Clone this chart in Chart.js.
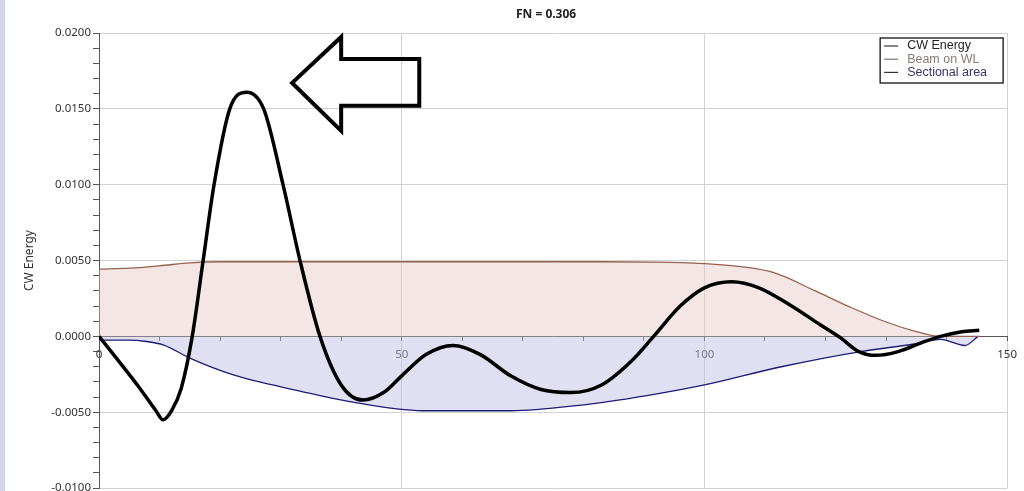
<!DOCTYPE html>
<html>
<head>
<meta charset="utf-8">
<script src="https://cdn.jsdelivr.net/npm/chart.js@4.4.1/dist/chart.umd.min.js"></script>
<style>
  html, body { margin: 0; padding: 0; background: #fff; overflow: hidden; }
  body { width: 1024px; height: 491px; position: relative; }
  #strip { position: absolute; left: 0; top: 0; width: 5px; height: 491px; background: #d3d7e7; z-index: 2; }
  #wrap { position: absolute; left: 0; top: 0; width: 1024px; height: 497px; }
</style>
</head>
<body>
<div id="strip"></div>
<div id="wrap"><canvas id="graphCanvas"></canvas></div>
<script>
// Datos
const chartTitle = 'FN = 0.306';
const yAxisTitle = 'CW Energy';

const cwX = [0, 3, 6.7, 9.4, 10.6, 12.0, 13.6, 15.4, 17.2, 19.0, 21.6, 24.4, 27.2, 30.4, 33.2, 36.5, 40, 43.6, 47, 50, 54, 58.5, 63, 68, 73, 78, 83, 88, 91.6, 96, 100, 104.5, 109, 114, 119, 122.5, 125.5, 128.3, 132, 136, 139, 142.5, 145.4];
const cwY = [0, -0.0015, -0.0034, -0.0049, -0.0055, -0.0049, -0.0034, 0.0000, 0.0050, 0.0100, 0.0150, 0.0161, 0.0150, 0.0100, 0.0050, 0.0000, -0.0032, -0.0042, -0.0037, -0.0026, -0.0012, -0.0006, -0.0012, -0.0026, -0.0035, -0.0037, -0.0032, -0.0016, 0.0000, 0.0020, 0.0032, 0.0036, 0.0032, 0.0021, 0.0008, -0.0001, -0.0010, -0.00125, -0.0010, -0.0004, 0.0000, 0.0003, 0.0004];

const beamX = [0, 5, 10, 15, 20, 40, 60, 80, 92, 100, 106, 111.5, 118.3, 123.7, 130, 135, 139, 145.5];
const beamY = [0.00443, 0.00450, 0.00465, 0.00485, 0.00492, 0.00492, 0.00492, 0.00492, 0.00490, 0.00480, 0.00460, 0.00420, 0.00300, 0.00200, 0.00095, 0.00032, 0.0000, 0.0000];

const areaX = [0, 5, 7.5, 10.7, 15.1, 22.2, 33.2, 41.4, 53.5, 60, 68, 79.3, 90.5, 100, 112.7, 125.8, 134.7, 139, 143, 145.2];
const areaY = [-0.00024, -0.00025, -0.00032, -0.00057, -0.00145, -0.00254, -0.0036, -0.0043, -0.0049, -0.0049, -0.0049, -0.00454, -0.0039, -0.0032, -0.0020, -0.0010, -0.0005, -0.0002, -0.0006, 0.0];

const seriesNames = ['CW Energy', 'Beam on WL', 'Sectional area'];
const legendTextColors = ['#222222', '#8c7a72', '#35356a'];

// Flecha (coordenadas en unidades de los ejes)
const arrowX = [31.9, 40.0, 40.0, 52.9, 52.9, 40.0, 40.0];
const arrowY = [0.01671, 0.01974, 0.01829, 0.01829, 0.01520, 0.01520, 0.01355];

const toPoints = (xs, ys) => xs.map((x, i) => ({ x, y: ys[i] }));
const isMajor = (v, step) => Math.abs(v / step - Math.round(v / step)) < 1e-6;

const titlePlugin = {
    id: 'fnTitle',
    afterDraw(chart) {
        const { ctx, chartArea } = chart;
        ctx.save();
        ctx.font = 'bold 12px "Noto Sans", sans-serif';
        ctx.fillStyle = '#222';
        ctx.textAlign = 'center';
        ctx.textBaseline = 'middle';
        ctx.fillText(chartTitle, (chartArea.left + chartArea.right) / 2 - 7, 15);
        ctx.restore();
    }
};

const boxLegend = {
    id: 'boxLegend',
    afterDraw(chart) {
        const { ctx, chartArea } = chart;
        const w = 123, h = 45;
        const x0 = chartArea.right - 4 - w, y0 = chartArea.top + 5;
        ctx.save();
        ctx.fillStyle = '#fff';
        ctx.fillRect(x0, y0, w, h);
        ctx.strokeStyle = '#111';
        ctx.lineWidth = 1.3;
        ctx.strokeRect(x0, y0, w, h);
        ctx.font = '12.5px "Liberation Sans", Arial, sans-serif';
        ctx.textBaseline = 'middle';
        chart.data.datasets.forEach((ds, i) => {
            const cy = y0 + 8 + i * 13.2;
            ctx.strokeStyle = i === 1 ? '#777' : '#333';
            ctx.lineWidth = 1.2;
            ctx.beginPath();
            ctx.moveTo(x0 + 4, cy);
            ctx.lineTo(x0 + 18, cy);
            ctx.stroke();
            ctx.fillStyle = legendTextColors[i];
            ctx.fillText(ds.label, x0 + 27, cy);
        });
        ctx.restore();
    }
};

const arrowPlugin = {
    id: 'arrow',
    afterDraw(chart) {
        const { ctx } = chart;
        const xs = chart.scales.x, ys = chart.scales.y;
        ctx.save();
        ctx.strokeStyle = '#000';
        ctx.lineWidth = 4;
        ctx.lineJoin = 'miter';
        ctx.beginPath();
        arrowX.forEach((x, i) => {
            const px = xs.getPixelForValue(x), py = ys.getPixelForValue(arrowY[i]);
            if (i === 0) ctx.moveTo(px, py); else ctx.lineTo(px, py);
        });
        ctx.closePath();
        ctx.stroke();
        ctx.restore();
    }
};

const ctx = document.getElementById('graphCanvas').getContext('2d');
window.myChart = new Chart(ctx, {
    type: 'line',
    data: {
        datasets: [
            {
                label: seriesNames[0],
                data: toPoints(cwX, cwY),
                borderColor: '#000',
                borderWidth: 3.5,
                cubicInterpolationMode: 'monotone',
                pointRadius: 0,
                fill: false
            },
            {
                label: seriesNames[1],
                data: toPoints(beamX, beamY),
                borderColor: '#94604f',
                borderWidth: 1.3,
                backgroundColor: 'rgba(228, 196, 190, 0.42)',
                cubicInterpolationMode: 'monotone',
                pointRadius: 0,
                fill: 'origin'
            },
            {
                label: seriesNames[2],
                data: toPoints(areaX, areaY),
                borderColor: '#1c1c78',
                borderWidth: 1.3,
                backgroundColor: 'rgba(190, 190, 228, 0.48)',
                cubicInterpolationMode: 'monotone',
                pointRadius: 0,
                fill: 'origin'
            }
        ]
    },
    options: {
        responsive: true,
        maintainAspectRatio: false,
        animation: false,
        layout: { padding: { top: 33, right: 15, left: 0, bottom: 0 } },
        scales: {
            x: {
                type: 'linear',
                position: { y: 0 },
                min: 0,
                max: 150,
                ticks: {
                    stepSize: 10,
                    autoSkip: false,
                    maxRotation: 0,
                    padding: 7,
                    color: '#333',
                    font: { family: '"Noto Sans", sans-serif', size: 11.5 },
                    callback: v => isMajor(v, 50) ? String(v) : ''
                },
                grid: {
                    color: c => (c.tick && isMajor(c.tick.value, 50) && c.tick.value !== 0) ? '#d2d2d2' : 'rgba(0,0,0,0)',
                    tickColor: '#555',
                    tickLength: 4
                },
                border: { color: '#555', width: 1 }
            },
            y: {
                min: -0.01,
                max: 0.02,
                afterFit: s => { s.width = 99; },
                ticks: {
                    stepSize: 0.001,
                    autoSkip: false,
                    padding: 2,
                    color: '#333',
                    font: { family: '"Noto Sans", sans-serif', size: 11.5 },
                    callback: v => isMajor(v, 0.005) ? v.toFixed(4) : ''
                },
                grid: {
                    color: c => (c.tick && isMajor(c.tick.value, 0.005)) ? '#d2d2d2' : 'rgba(0,0,0,0)',
                    tickColor: '#555',
                    tickLength: 6
                },
                border: { color: '#555', width: 1 },
                title: {
                    display: true,
                    text: yAxisTitle,
                    color: '#333',
                    font: { family: '"Noto Sans", sans-serif', size: 12 },
                    padding: { top: 22, bottom: 0 }
                }
            }
        },
        plugins: {
            legend: { display: false },
            title: { display: false },
            tooltip: { enabled: false }
        }
    },
    plugins: [titlePlugin, boxLegend, arrowPlugin]
});
</script>
</body>
</html>
